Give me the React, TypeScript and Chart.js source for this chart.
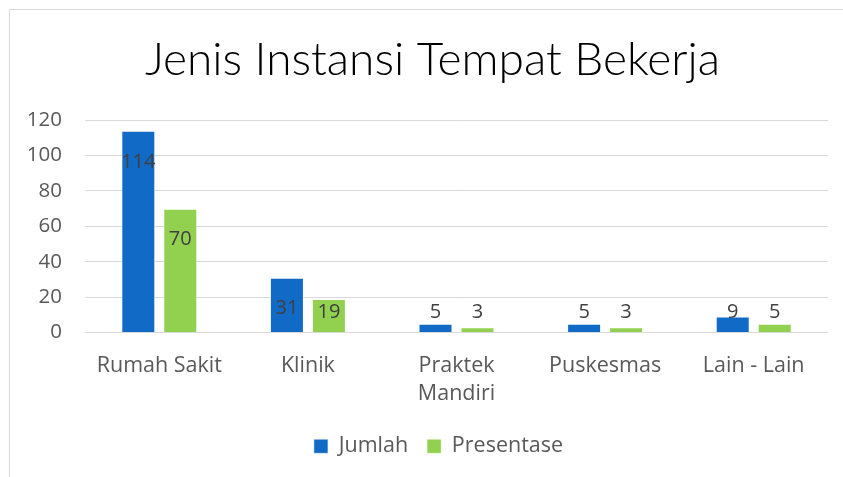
import React, { useEffect, useRef } from "react";
import { Chart, registerables } from "chart.js";

Chart.register(...registerables);

const titleText = "Jenis Instansi Tempat Bekerja";
const categories: string[][] = [["Rumah Sakit"], ["Klinik"], ["Praktek", "Mandiri"], ["Puskesmas"], ["Lain - Lain"]];
const seriesNames = ["Jumlah", "Presentase"];
const jumlah = [114, 31, 5, 5, 9];
const presentase = [70, 19, 3, 3, 5];
const yTicks = [0, 20, 40, 60, 80, 100, 120];

const BLUE = "#116AC6";
const GREEN = "#92D050";
const FONT = "'Open Sans', 'Noto Sans', sans-serif";

const labelPlugin = {
  id: "barLabels",
  afterLayout(chart: any) {
    // centre the title and legend like the original (which is centred over a wider frame)
    if (chart.titleBlock) chart.titleBlock.left = 27;
    if (chart.legend) chart.legend.left = 39;
  },
  afterDatasetsDraw(chart: any) {
    const ctx = chart.ctx;
    const yScale = chart.scales.y;
    const zero = yScale.getPixelForValue(0);
    ctx.save();
    ctx.font = `20px ${FONT}`;
    ctx.fillStyle = "#404040";
    ctx.textAlign = "center";
    ctx.textBaseline = "middle";
    chart.data.datasets.forEach((ds: any, di: number) => {
      const meta = chart.getDatasetMeta(di);
      meta.data.forEach((bar: any, i: number) => {
        const y = Math.min(bar.y + 31, zero - 20);
        ctx.fillText(String(ds.data[i]), bar.x, y);
      });
    });
    ctx.restore();
  },
};

export default function App() {
  const ref = useRef<HTMLCanvasElement | null>(null);
  useEffect(() => {
    let chart: Chart | null = null;
    let cancelled = false;
    const make = () => {
      if (cancelled || !ref.current) return;
      chart = new Chart(ref.current, {
        type: "bar",
        data: {
          labels: categories,
          datasets: [
            {
              label: seriesNames[0],
              data: jumlah,
              backgroundColor: BLUE,
              borderColor: "rgba(255,255,255,0.45)",
              borderWidth: 1,
              categoryPercentage: 0.565,
              barPercentage: 0.81,
            },
            {
              label: seriesNames[1],
              data: presentase,
              backgroundColor: GREEN,
              borderColor: "rgba(255,255,255,0.45)",
              borderWidth: 1,
              categoryPercentage: 0.565,
              barPercentage: 0.81,
            },
          ],
        },
        options: {
          responsive: false,
          animation: false,
          devicePixelRatio: 1,
          layout: { padding: { left: 0, right: 28, top: 0, bottom: 10 } },
          plugins: {
            title: {
              display: true,
              text: titleText,
              color: "#000000",
              font: { family: "Lato, 'Open Sans', sans-serif", size: 46, weight: "300" },
              padding: { top: 23, bottom: 32 },
            },
            legend: {
              display: true,
              position: "bottom",
              labels: {
                boxWidth: 14,
                boxHeight: 14,
                padding: 19,
                color: "#595959",
                font: { family: FONT, size: 21.5 },
              },
            },
            tooltip: { enabled: false },
          },
          scales: {
            x: {
              grid: { display: false, drawTicks: false },
              border: { display: false },
              ticks: {
                color: "#595959",
                font: { family: FONT, size: 21.5, lineHeight: 1.3 },
                padding: 19,
                maxRotation: 0,
                autoSkip: false,
              },
              afterFit: (s: any) => {
                s.height = 84;
              },
            },
            y: {
              min: 0,
              max: 120,
              afterBuildTicks: (s: any) => {
                s.ticks = yTicks.map((v) => ({ value: v }));
              },
              grid: { color: "#D9D9D9", lineWidth: 1, drawTicks: false },
              border: { display: false },
              ticks: {
                color: "#595959",
                font: { family: FONT, size: 20.5 },
                padding: 23,
              },
              afterFit: (s: any) => {
                s.width = 75;
              },
            },
          },
        },
        plugins: [labelPlugin],
      });
    };
    const fonts: any = (document as any).fonts;
    if (fonts && fonts.load) {
      Promise.all([
        fonts.load(`20px 'Open Sans'`),
        fonts.load(`300 46px Lato`),
        fonts.load(`46px Lato`),
      ]).then(make, make);
    } else {
      make();
    }
    return () => {
      cancelled = true;
      if (chart) chart.destroy();
    };
  }, []);

  return (
    <div
      style={{
        position: "fixed",
        left: 9,
        top: 9,
        width: 834,
        height: 468,
        overflow: "hidden",
        borderLeft: "1px solid #D9D9D9",
        borderTop: "1px solid #D9D9D9",
        background: "#fff",
      }}
    >
      <canvas ref={ref} width={846} height={467} style={{ display: "block" }} />
    </div>
  );
}
